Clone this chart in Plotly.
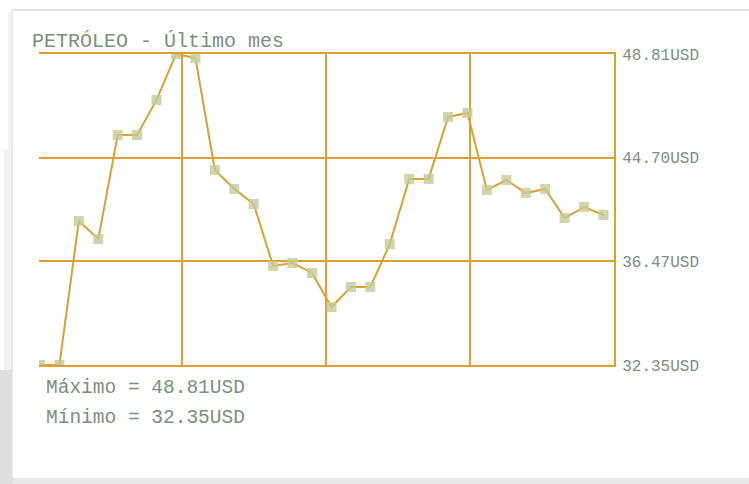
import plotly.graph_objects as go

# precio diario del petróleo, último mes (USD)
dias = list(range(30))
precios = [32.35, 32.35, 39.97, 39.02, 44.52, 44.52, 46.38, 48.81, 48.60, 42.67,
           41.67, 40.87, 37.59, 37.75, 37.22, 35.42, 36.48, 36.48, 38.75, 42.20,
           42.20, 45.48, 45.69, 41.61, 42.14, 41.45, 41.67, 40.13, 40.71, 40.29]
etiquetas_y = ["32.35USD", "36.47USD", "44.70USD", "48.81USD"]
titulo = "PETRÓLEO - Último mes"

naranja = "#DDA033"
texto = "#7C907C"
fuente = "Liberation Mono"

W, H = 749, 484
L, R, T, B = 39, 614, 54, 365


def px(x):
    return (x - L) / (R - L)


def py(y):
    return (B - y) / (B - T)


fig = go.Figure()
fig.add_trace(go.Scatter(
    x=dias, y=precios, mode="lines+markers",
    line=dict(color=naranja, width=2),
    marker=dict(symbol="square", size=10, color="rgba(196,202,150,0.8)"),
    cliponaxis=True, hoverinfo="y"
))

ymin, ymax = min(precios), max(precios)
paso = (ymax - ymin) / 3
tickvals = [ymin + paso * i for i in range(4)]

fig.update_xaxes(range=[-0.05, 29.54], tickvals=[7.3, 14.72, 22.15], showticklabels=False,
                 showgrid=True, gridcolor=naranja, gridwidth=2, zeroline=False,
                 showline=True, linecolor=naranja, linewidth=2, mirror=True, ticks="")
fig.update_yaxes(range=[ymin, ymax], side="right", tickvals=tickvals, ticktext=etiquetas_y,
                 showgrid=True, gridcolor=naranja, gridwidth=2, zeroline=False,
                 showline=True, linecolor=naranja, linewidth=2, mirror=False,
                 ticks="outside", ticklen=3, tickcolor="rgba(0,0,0,0)",
                 tickfont=dict(family=fuente, size=16, color=texto))

shapes = [
    # marco / sombra de la tarjeta
    dict(type="line", xref="paper", yref="paper", x0=px(12), x1=px(W), y0=py(10), y1=py(10),
         line=dict(color="#d9d9d9", width=1.5)),
    dict(type="rect", xref="paper", yref="paper", x0=px(0), x1=px(12), y0=py(H), y1=py(370),
         fillcolor="rgba(175,175,175,0.4)", line_width=0, layer="below"),
    dict(type="rect", xref="paper", yref="paper", x0=px(4), x1=px(12), y0=py(370), y1=py(150),
         fillcolor="rgba(200,200,200,0.25)", line_width=0, layer="below"),
    dict(type="rect", xref="paper", yref="paper", x0=px(8), x1=px(12), y0=py(150), y1=py(12),
         fillcolor="rgba(210,210,210,0.25)", line_width=0, layer="below"),
    dict(type="line", xref="paper", yref="paper", x0=px(12), x1=px(12), y0=py(H), y1=py(10),
         line=dict(color="#dadada", width=1)),
    dict(type="rect", xref="paper", yref="paper", x0=px(12), x1=px(W), y0=py(H), y1=py(478),
         fillcolor="rgba(205,205,205,0.45)", line_width=0, layer="below"),
]

annotations = [
    dict(text=titulo, xref="paper", yref="paper", x=px(30), y=py(42), xanchor="left",
         yanchor="middle", showarrow=False, font=dict(family=fuente, size=20, color=texto)),
    dict(text=f"Máximo = {ymax:.2f}USD", xref="paper", yref="paper", x=px(44), y=py(388),
         xanchor="left", yanchor="middle", showarrow=False,
         font=dict(family=fuente, size=19.5, color=texto)),
    dict(text=f"Mínimo = {ymin:.2f}USD", xref="paper", yref="paper", x=px(44), y=py(418),
         xanchor="left", yanchor="middle", showarrow=False,
         font=dict(family=fuente, size=19.5, color=texto)),
]

fig.update_layout(width=W, height=H, margin=dict(l=L, r=W - R, t=T, b=H - B),
                  paper_bgcolor="white", plot_bgcolor="white", showlegend=False,
                  shapes=shapes, annotations=annotations)

fig.write_html("out.html", config={"displayModeBar": False},
               post_script="document.body.style.margin='0';")
